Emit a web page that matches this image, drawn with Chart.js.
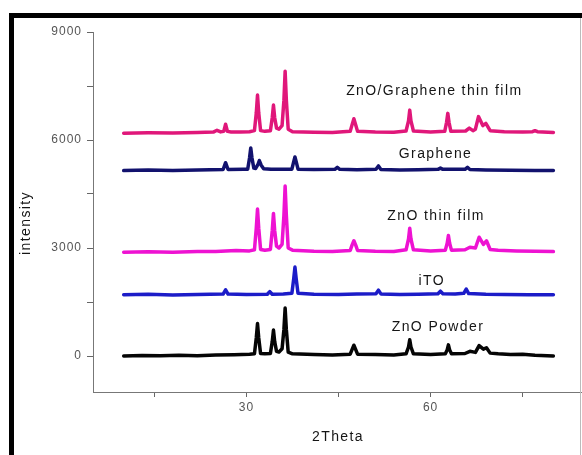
<!DOCTYPE html>
<html>
<head>
<meta charset="utf-8">
<script src="https://cdn.jsdelivr.net/npm/chart.js@4.4.1/dist/chart.umd.min.js"></script>
<style>
  html, body { margin: 0; padding: 0; background: #fff; }
  #wrap { position: relative; width: 582px; height: 455px; }
</style>
</head>
<body>
<div id="wrap"><canvas id="c"></canvas></div>
<script>
// ---- data ----
const seriesNames = ["ZnO/Graphene thin film", "Graphene", "ZnO thin film", "iTO", "ZnO Powder"];

const znoGrapheneX = [10, 14, 18, 22, 24.6, 25.2, 25.8, 26.3, 26.6, 26.9, 27.5, 29, 30.5, 31.3, 31.6, 31.8, 32.0, 32.3, 33.0, 33.9, 34.2, 34.4, 34.6, 34.9, 35.3, 35.8, 36.1, 36.3, 36.5, 36.8, 37.5, 41, 44, 46.9, 47.2, 47.5, 47.8, 48.1, 51, 54, 56.0, 56.4, 56.6, 56.8, 57.2, 60, 62.3, 62.6, 62.8, 63.0, 63.3, 65.7, 66.3, 66.9, 67.3, 67.8, 68.5, 69.0, 69.7, 72, 75, 76.6, 77, 77.4, 80];
const znoGrapheneY = [6190, 6200, 6195, 6210, 6220, 6270, 6225, 6240, 6440, 6240, 6225, 6220, 6230, 6260, 6750, 7250, 6750, 6260, 6240, 6260, 6620, 6970, 6620, 6330, 6300, 6400, 7100, 7910, 7100, 6300, 6230, 6215, 6210, 6240, 6420, 6590, 6420, 6240, 6220, 6215, 6250, 6530, 6830, 6530, 6250, 6225, 6240, 6490, 6740, 6490, 6240, 6250, 6330, 6260, 6300, 6650, 6400, 6460, 6260, 6230, 6220, 6230, 6260, 6230, 6210];

const grapheneX = [10, 14, 18, 22, 26.2, 26.6, 27.0, 29.5, 30.2, 30.5, 30.7, 30.9, 31.2, 31.5, 31.9, 32.1, 32.4, 32.8, 34, 37.4, 37.7, 37.9, 38.1, 38.4, 41, 44.4, 44.8, 45.2, 48, 51.1, 51.5, 51.9, 55, 58, 61.2, 61.6, 62.0, 65.6, 66.0, 66.4, 69, 73, 77, 80];
const grapheneY = [5150, 5165, 5150, 5170, 5180, 5370, 5180, 5190, 5190, 5500, 5780, 5500, 5220, 5210, 5330, 5430, 5300, 5200, 5185, 5190, 5400, 5530, 5400, 5190, 5180, 5185, 5240, 5185, 5175, 5185, 5280, 5180, 5170, 5175, 5185, 5220, 5185, 5185, 5240, 5180, 5170, 5160, 5155, 5150];

const znoFilmX = [10, 14, 18, 22, 25, 28.3, 30.5, 31.3, 31.6, 31.8, 32.0, 32.3, 33.0, 33.9, 34.2, 34.4, 34.6, 34.9, 35.3, 35.8, 36.1, 36.3, 36.5, 36.8, 37.5, 41, 44, 46.9, 47.2, 47.5, 47.8, 48.1, 51, 54, 56.0, 56.4, 56.6, 56.8, 57.2, 60, 62.4, 62.7, 62.9, 63.1, 63.4, 65.6, 66.4, 67.3, 67.9, 68.6, 69.1, 69.7, 71, 74, 77, 80];
const znoFilmY = [2880, 2895, 2885, 2900, 2905, 2930, 2920, 2950, 3550, 4080, 3550, 2960, 2940, 2960, 3480, 3960, 3480, 3050, 3000, 3100, 3900, 4720, 3900, 3000, 2940, 2910, 2905, 2930, 3080, 3200, 3080, 2930, 2910, 2905, 2950, 3250, 3550, 3250, 2950, 2920, 2940, 3130, 3350, 3130, 2940, 2950, 3020, 3000, 3300, 3100, 3200, 2960, 2940, 2920, 2910, 2900];

const itoX = [10, 14, 18, 22, 26.2, 26.6, 27.0, 30, 33.4, 33.8, 34.2, 36, 37.4, 37.7, 37.9, 38.1, 38.4, 41, 45, 48, 51.1, 51.5, 51.9, 55, 58, 61.2, 61.6, 62.0, 64, 65.4, 65.8, 66.2, 69, 72, 76, 80];
const itoY = [1700, 1715, 1695, 1710, 1720, 1840, 1720, 1705, 1715, 1790, 1715, 1720, 1740, 2150, 2470, 2150, 1740, 1715, 1705, 1720, 1730, 1830, 1725, 1710, 1715, 1730, 1800, 1730, 1725, 1740, 1860, 1735, 1715, 1705, 1700, 1700];

const znoPowderX = [10, 13, 16, 19, 22, 25, 28, 30.5, 31.3, 31.6, 31.8, 32.0, 32.3, 33.0, 33.9, 34.2, 34.4, 34.6, 34.9, 35.3, 35.8, 36.1, 36.3, 36.5, 36.8, 37.5, 41, 44, 46.9, 47.5, 48.1, 51, 54, 56.0, 56.4, 56.6, 56.8, 57.2, 60, 62.4, 62.7, 62.9, 63.1, 63.4, 65.6, 66.4, 67.3, 67.9, 68.6, 69.1, 69.7, 71, 73, 75, 77, 80];
const znoPowderY = [0, 15, 5, 20, 10, 25, 35, 50, 60, 500, 900, 500, 70, 60, 70, 400, 720, 400, 130, 110, 200, 730, 1330, 730, 110, 60, 40, 30, 50, 300, 50, 40, 30, 60, 250, 450, 250, 60, 40, 60, 170, 310, 170, 60, 70, 130, 100, 290, 190, 230, 80, 60, 40, 50, 20, 0];

const yTickValues = [0, 1500, 3000, 4500, 6000, 7500, 9000];
const yTickLabels = ["0", "", "3000", "", "6000", "", "9000"];
const xTickValues = [15, 30, 45, 60, 75];
const xTickLabels = ["", "30", "", "60", ""];

// ---- label anchors (data coordinates) ----
const labelAnchors = [
  { x: 60.6, y: 7361 },
  { x: 60.8, y: 5611 },
  { x: 60.9, y: 3889 },
  { x: 60.2, y: 2083 },
  { x: 61.2, y: 806 }
];

const colors = ["#e0177a", "#12126e", "#ee12d2", "#1c1cc8", "#050505"];
const seriesX = [znoGrapheneX, grapheneX, znoFilmX, itoX, znoPowderX];
const seriesY = [znoGrapheneY, grapheneY, znoFilmY, itoY, znoPowderY];

const FONT = "'Liberation Sans', Arial, sans-serif";

const datasets = seriesNames.map((name, i) => ({
  label: name,
  data: seriesX[i].map((x, j) => ({ x: x, y: seriesY[i][j] })),
  borderColor: colors[i],
  backgroundColor: colors[i],
  borderWidth: 3.5,
  pointRadius: 0,
  tension: 0,
  borderJoinStyle: 'round',
  borderCapStyle: 'round',
  fill: false
}));

const decor = {
  id: 'decor',
  beforeDraw(chart) {
    const ctx = chart.ctx;
    ctx.save();
    ctx.fillStyle = '#fff';
    ctx.fillRect(0, 0, chart.width, chart.height);
    ctx.restore();
    ctx.letterSpacing = '1px';
  },
  afterDraw(chart) {
    const ctx = chart.ctx;
    const xs = chart.scales.x, ys = chart.scales.y;
    ctx.save();
    // outer frame
    ctx.fillStyle = '#000';
    ctx.fillRect(9, 13, chart.width - 9, 5);
    ctx.fillRect(9, 13, 5, chart.height - 13);
    ctx.fillStyle = '#bbb';
    ctx.fillRect(580, 18, 1, chart.height - 18);
    // series labels
    ctx.fillStyle = '#151515';
    ctx.font = '14px ' + FONT;
    ctx.letterSpacing = '1.4px';
    ctx.textAlign = 'center';
    ctx.textBaseline = 'middle';
    seriesNames.forEach((name, i) => {
      ctx.fillText(name, xs.getPixelForValue(labelAnchors[i].x), ys.getPixelForValue(labelAnchors[i].y));
    });
    // axis titles
    ctx.fillText('2Theta', (xs.left + xs.right) / 2 + 1, 437);
    ctx.translate(26, (ys.top + ys.bottom) / 2 + 11);
    ctx.rotate(-Math.PI / 2);
    ctx.fillText('intensity', 0, 0);
    ctx.restore();
  }
};

new Chart(document.getElementById('c'), {
  type: 'line',
  data: { datasets: datasets },
  options: {
    responsive: true,
    maintainAspectRatio: false,
    animation: false,
    layout: { padding: { left: 0, top: 32, right: 1, bottom: 0 } },
    plugins: { legend: { display: false }, tooltip: { enabled: false } },
    scales: {
      x: {
        type: 'linear',
        min: 5,
        max: 84.5,
        afterBuildTicks(scale) { scale.ticks = xTickValues.map(v => ({ value: v })); },
        afterFit(scale) { scale.height = 63; },
        ticks: {
          autoSkip: false,
          maxRotation: 0,
          padding: 3,
          color: '#555',
          font: { family: FONT, size: 12 },
          callback(v) { const k = xTickValues.indexOf(v); return k >= 0 ? xTickLabels[k] : ''; }
        },
        grid: { drawOnChartArea: false, drawTicks: true, tickLength: 5, tickColor: '#666' },
        border: { display: true, color: '#777', width: 1 }
      },
      y: {
        type: 'linear',
        min: -1000,
        max: 9000,
        afterBuildTicks(scale) { scale.ticks = yTickValues.map(v => ({ value: v })); },
        afterFit(scale) { scale.width = 93; },
        ticks: {
          autoSkip: false,
          padding: 5,
          color: '#555',
          font: { family: FONT, size: 12 },
          callback(v) { const k = yTickValues.indexOf(v); return k >= 0 ? yTickLabels[k] : ''; }
        },
        grid: { drawOnChartArea: false, drawTicks: true, tickLength: 6, tickColor: '#666' },
        border: { display: true, color: '#777', width: 1 }
      }
    }
  },
  plugins: [decor]
});
</script>
</body>
</html>
